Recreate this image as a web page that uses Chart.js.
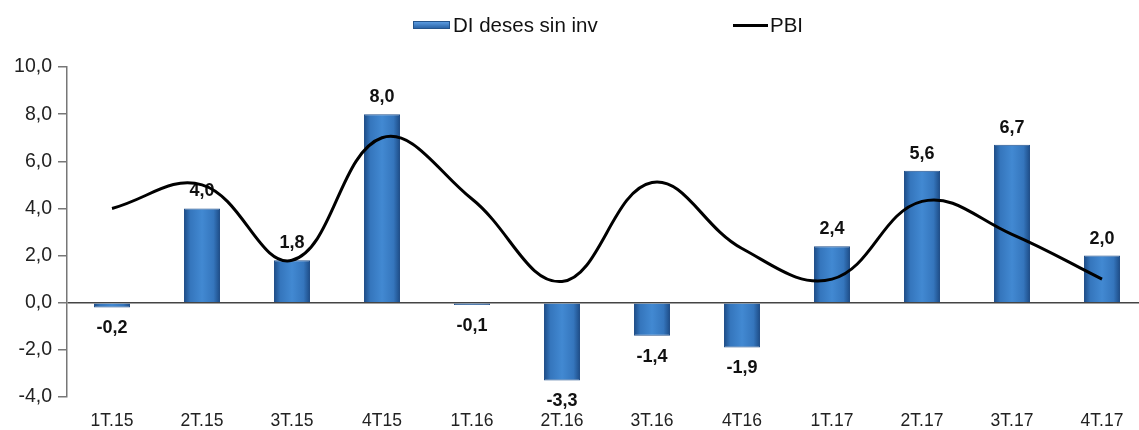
<!DOCTYPE html>
<html lang="es">
<head>
    <meta charset="UTF-8">
    <title>DI deses sin inv vs PBI</title>
    <script src="https://cdn.jsdelivr.net/npm/chart.js"></script>
    <style>
        html, body {
            margin: 0;
            padding: 0;
            background: #ffffff;
            overflow: hidden;
            font-family: Arial, "Liberation Sans", sans-serif;
        }

        .wrap {
            position: relative;
            width: 1139px;
            height: 430px;
            overflow: hidden;
        }

        #chart {
            position: absolute;
            left: 0;
            top: 0;
        }

        .legend {
            position: absolute;
            top: 13px;
            font-size: 20.5px;
            line-height: 24px;
            color: #111;
            display: flex;
            align-items: center;
            white-space: nowrap;
        }

        .legend .box {
            display: inline-block;
            width: 37px;
            height: 8px;
            margin-right: 3px;
            background: linear-gradient(to bottom, #5b9be0, #2b65a8);
            border: 1px solid #24548c;
            box-sizing: border-box;
        }

        .legend .line {
            display: inline-block;
            width: 35px;
            height: 3px;
            margin-right: 2px;
            background: #000;
        }
    </style>
</head>
<body>
    <div class="wrap">
        <canvas id="chart" width="1150" height="430"></canvas>
        <div class="legend" style="left: 413px;"><span class="box"></span>DI deses sin inv</div>
        <div class="legend" style="left: 733px;"><span class="line"></span>PBI</div>
    </div>

    <script>
        // data
        const quarters = ['1T.15', '2T.15', '3T.15', '4T15', '1T.16', '2T.16', '3T.16', '4T16', '1T.17', '2T.17', '3T.17', '4T.17'];
        const diValues = [-0.2, 4.0, 1.8, 8.0, -0.1, -3.3, -1.4, -1.9, 2.4, 5.6, 6.7, 2.0];
        const pbiValues = [4.0, 5.0, 1.8, 7.0, 4.4, 0.9, 5.1, 2.3, 1.0, 4.3, 2.9, 1.0];
        const yTicks = { min: -4, max: 10, step: 2 };

        const fmt = v => v.toFixed(1).replace('.', ',');

        // horizontal gradient on each bar to get the rounded look
        function barFill(ctx) {
            const chart = ctx.chart;
            if (!chart.chartArea) return '#3a7bc0';
            const cx = chart.scales.x.getPixelForValue(ctx.dataIndex);
            const half = 18;
            const g = chart.ctx.createLinearGradient(cx - half, 0, cx + half, 0);
            g.addColorStop(0, '#1d4c86');
            g.addColorStop(0.18, '#3576bd');
            g.addColorStop(0.5, '#4289d2');
            g.addColorStop(0.82, '#3576bd');
            g.addColorStop(1, '#1d4c86');
            return g;
        }

        // value labels above / below the bars
        const barLabels = {
            id: 'barLabels',
            afterDatasetDraw(chart, args) {
                if (args.index !== 0) return;
                const c = chart.ctx;
                c.save();
                c.font = 'bold 18px Arial, "Liberation Sans", sans-serif';
                c.fillStyle = '#111';
                c.textAlign = 'center';
                c.textBaseline = 'middle';
                args.meta.data.forEach((bar, i) => {
                    const v = diValues[i];
                    const y = v >= 0 ? bar.y - 17 : bar.y + 21;
                    c.fillText(fmt(v), bar.x, y);
                });
                c.restore();
            }
        };

        new Chart(document.getElementById('chart'), {
            data: {
                labels: quarters,
                datasets: [{
                    type: 'bar',
                    label: 'DI deses sin inv',
                    data: diValues,
                    backgroundColor: barFill,
                    borderColor: '#22508a',
                    borderWidth: 1,
                    barPercentage: 0.8,
                    categoryPercentage: 0.5,
                    order: 2
                }, {
                    type: 'line',
                    label: 'PBI',
                    data: pbiValues,
                    borderColor: '#000',
                    borderWidth: 3,
                    pointRadius: 0,
                    tension: 0.4,
                    fill: false,
                    order: 1
                }]
            },
            options: {
                responsive: false,
                animation: false,
                devicePixelRatio: 1,
                layout: {
                    padding: { top: 67, left: 0, right: 3, bottom: 0 }
                },
                plugins: {
                    legend: { display: false },
                    tooltip: { enabled: false }
                },
                scales: {
                    x: {
                        grid: { display: false },
                        border: { display: false },
                        ticks: {
                            color: '#222',
                            padding: 6,
                            maxRotation: 0,
                            font: { family: 'Arial, "Liberation Sans", sans-serif', size: 17.5 }
                        },
                        afterFit(scale) { scale.height = 33; }
                    },
                    y: {
                        min: yTicks.min,
                        max: yTicks.max,
                        ticks: {
                            stepSize: yTicks.step,
                            color: '#222',
                            padding: 6,
                            font: { family: 'Arial, "Liberation Sans", sans-serif', size: 19.5 },
                            callback: v => fmt(v)
                        },
                        grid: {
                            color: ctx => (ctx.tick && ctx.tick.value === 0) ? '#444' : 'rgba(0,0,0,0)',
                            lineWidth: 1.5,
                            tickColor: '#777',
                            tickLength: 9
                        },
                        border: { color: '#777', width: 1.5 },
                        afterFit(scale) { scale.width = 67; }
                    }
                }
            },
            plugins: [barLabels]
        });
    </script>
</body>
</html>
